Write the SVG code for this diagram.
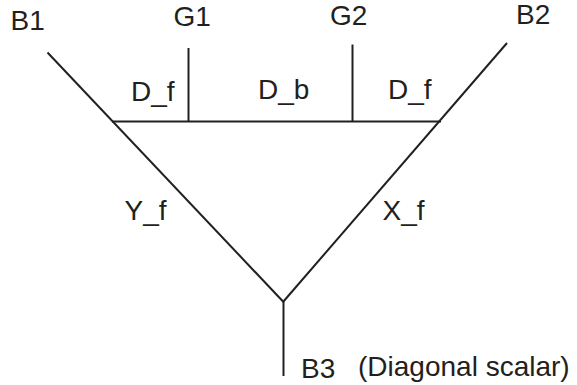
<svg xmlns="http://www.w3.org/2000/svg" width="577" height="385" viewBox="0 0 577 385">
<style>
.ln{stroke:#231f20;stroke-width:2;fill:none}
text{font-family:"Liberation Sans",Arial,sans-serif;font-size:28px;fill:#231f20}
</style>
<rect width="577" height="385" fill="#fff"/>
<g id="connectors">
<line class="ln" x1="47.5" y1="52.5" x2="283.5" y2="302"/>
<line class="ln" x1="507" y1="43" x2="283" y2="302"/>
<line class="ln" x1="112" y1="121.5" x2="441" y2="121.5"/>
<line class="ln" x1="188.5" y1="48" x2="188.5" y2="121.5"/>
<line class="ln" x1="352.5" y1="44.5" x2="352.5" y2="121.5"/>
<line class="ln" x1="283.5" y1="301" x2="283.5" y2="376"/>
</g>
<g id="B1"><text x="10.5" y="30">B1</text></g>
<g id="G1"><text x="173.5" y="25.5">G1</text></g>
<g id="G2"><text x="330" y="24.5">G2</text></g>
<g id="B2"><text x="516" y="23.5">B2</text></g>
<g id="Df1"><text x="131" y="101">D_f</text></g>
<g id="Db"><text x="258" y="99">D_b</text></g>
<g id="Df2"><text x="388" y="98.5">D_f</text></g>
<g id="Yf"><text x="124.5" y="219.5">Y_f</text></g>
<g id="Xf"><text x="382.5" y="219.5">X_f</text></g>
<g id="B3"><text x="301" y="378">B3</text></g>
<g id="note"><text x="358" y="376">(Diagonal scalar)</text></g>
</svg>
